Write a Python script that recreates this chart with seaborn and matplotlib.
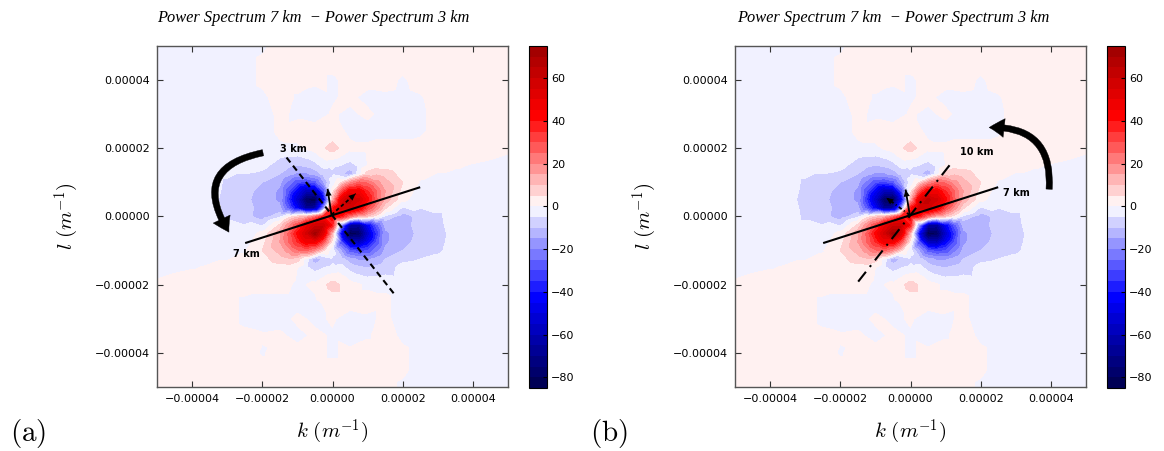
import numpy as np
import matplotlib
matplotlib.use("Agg")
import matplotlib.pyplot as plt
import matplotlib.tri as mtri
from matplotlib.colors import Normalize
from matplotlib.patches import FancyArrowPatch
from matplotlib.ticker import FuncFormatter, FixedLocator
import seaborn as sns

# ---------------- data (positions in units of 1e-6 m^-1) ----------------
UNIT = 1e-6

coarse_k = [-50, -45, -40, -35, -30, -25, -20, -15, -10, -5, 0, 5, 10, 15, 20, 25, 30, 35, 40, 45, 50]
coarse_l = [50, 45, 40, 35, 30, 25, 20, 15, 10, 5, 0, -5, -10, -15, -20, -25, -30, -35, -40, -45, -50]
coarse_diff = [
    [-2, -2, -2, -2, -2, -2, -1, 2, 2, 2, 2, 2, 2, 2, 2, 2, 2, 2, 2, 2, 2],
    [-2, -2, -2, -2, -2, -2, 1, 2, 2, 1, 1, 2, 2, 2, 2, 2, 2, 2, 2, 2, 2],
    [-2, -2, -2, -2, -2, -2, 1, 2, 2, 1, -0.5, 1, 2, 2, -0.8, 2, 2, 2, 2, 2, 2],
    [-2, -2, -2, -2, -2, -2, -1, 2, -0.5, -2, -0.5, 1, -1.5, -1, -1.5, -0.5, 2, 2, 2, 2, 2],
    [-2, -2, -2, -2, -2, -2, -2, 1, -1, -2, 0.5, -1, 1, -2, -2, -1, 2, 2, 2, 2, 2],
    [-2, -2, -2, -2, -2, -2, -2, 1, 2, 2, 2, -1, -2, -2, -2, -1, 2, 2, 2, 2, 2],
    [-2, -2, -2, -2, -2, -2, -2, -1, -1, 2, 7, 1, 1, 2, 2, 2, 2, 2, 2, 2, 1],
    [-2, -2, -2, -2, -2, -2, -3, -8, -10, -7, -4, -7, 0, 3, 2, 2, 1.5, 0.5, -0.3, -1, -2],
    [-2, -2, -2, -2.5, -6, -8, -10, -14, -30, -28, -3, 18, 24, 12, 5, -0.3, -2, -2, -2, -2, -2],
    [-2, -2, -2, -3, -7, -9, -12, -16, -55, -84, 12, 62, 42, 14, 1, -2, -2, -2, -2, -2, -2],
    [-2, -2, -2, -2.5, -6, -8, -13, -6, 8, 22, 42, 22, 8, -6, -13, -8, -6, -2.5, -2, -2, -2],
    [-2, -2, -2, -2, -2, -2, 1, 14, 42, 72, 12, -84, -55, -16, -12, -9, -7, -3, -2, -2, -2],
    [-2, -2, -2, -2, -2, -0.3, 5, 12, 24, 18, -3, -28, -30, -14, -10, -8, -6, -2.5, -2, -2, -2],
    [-2, -1, -0.3, 0.5, 1.5, 2, 2, 3, 0, -7, -4, -7, -10, -8, -3, -2, -2, -2, -2, -2, -2],
    [1, 2, 2, 2, 2, 2, 2, 2, -1, 1, 7, 2, -1, -1, -2, -2, -2, -2, -2, -2, -2],
    [2, 2, 2, 2, 2, -1, -2, -2, -2, -1, 2, 2, 2, 1, -2, -2, -2, -2, -2, -2, -2],
    [2, 2, 2, 2, 2, -1, -2, -2, 1, -1, 0.5, -2, -1, 1, -2, -2, -2, -2, -2, -2, -2],
    [2, 2, 2, 2, 2, 1, 0.5, 1, -1.5, 1, -0.5, -2, -0.5, 2, -1, -2, -2, -2, -2, -2, -2],
    [2, 2, 2, 2, 2, 2, -0.5, 2, 2, 1, -0.5, 1, 2, 2, 1, -2, -2, -2, -2, -2, -2],
    [2, 2, 2, 2, 2, 2, 2, 2, 2, 1, 1, 1, 2, 2, 1, -2, -2, -2, -2, -2, -2],
    [2, 2, 2, 2, 2, 2, 2, 2, 2, 2, 2, 2, 2, 2, -1, -2, -2, -2, -2, -2, -2],
]

fine_k = [-15, -12.5, -10, -7.5, -5, -2.5, 0, 2.5, 5, 7.5, 10, 12.5, 15]
fine_l = [15, 12.5, 10, 7.5, 5, 2.5, 0, -2.5, -5, -7.5, -10, -12.5, -15]
fine_diff = [
    [-8, -9, -10, -9, -7, -3, -4, -5, -7, -4, 0, 3, 3],
    [-10, -13, -16, -16, -13, -8, -6, -9, -13, -2, 7, 9, 7],
    [-14, -22, -30, -32, -28, -15, -3, 5, 18, 26, 24, 17, 12],
    [-16, -30, -45, -60, -58, -30, 2, 28, 45, 46, 35, 25, 15],
    [-16, -35, -55, -80, -84, -45, 12, 50, 62, 56, 42, 26, 14],
    [-14, -28, -45, -68, -65, -20, 38, 58, 58, 48, 30, 18, 6],
    [-6, 2, 8, 12, 22, 38, 42, 38, 22, 12, 8, 2, -6],
    [6, 18, 30, 48, 58, 58, 38, -20, -65, -68, -45, -28, -14],
    [14, 26, 42, 56, 72, 50, 12, -45, -84, -80, -55, -35, -16],
    [15, 25, 35, 46, 45, 28, 2, -30, -58, -60, -45, -30, -16],
    [12, 17, 24, 26, 18, 5, -3, -15, -28, -32, -30, -22, -14],
    [7, 9, 7, -2, -13, -9, -6, -8, -13, -16, -16, -13, -10],
    [3, 3, 0, -4, -7, -5, -4, -3, -7, -9, -10, -9, -8],
]

levels = list(range(-85, 80, 5))
cbar_ticks = [-80, -60, -40, -20, 0, 20, 40, 60]
axis_ticks = [-40, -20, 0, 20, 40]
axis_lim = [-50, 50]

title_text = "Power Spectrum 7 km  \u2212 Power Spectrum 3 km"
panel_labels = ["(a)", "(b)"]

# annotations (units of 1e-6 m^-1)
line7_k, line7_l = [-24.6, 24.7], [-7.7, 8.5]
line3_k, line3_l = [-13.1, 18.1], [17.3, -23.4]
line10_k, line10_l = [-14.9, 12.1], [-19.1, 16.3]
center_a, center_b = (-0.3, 0.5), (-0.2, 0.4)
arrow_solid_a, arrow_dash_a = (-1.4, 8.1), (6.6, 6.7)
arrow_solid_b, arrow_dash_b = (-1.4, 7.9), (-6.9, 5.5)
curve_a = ((-19.8, 18.7), (-29.5, -4.6), 0.72)
curve_b = ((39.5, 8.0), (22.4, 26.1), 0.55)

# ---------------- build field points ----------------
pk, pl, pz = [], [], []
for i, lv in enumerate(coarse_l):
    for j, kv in enumerate(coarse_k):
        if max(abs(kv), abs(lv)) > 15:
            pk.append(kv); pl.append(lv); pz.append(coarse_diff[i][j])
for i, lv in enumerate(fine_l):
    for j, kv in enumerate(fine_k):
        pk.append(kv); pl.append(lv); pz.append(fine_diff[i][j])
tri = mtri.Triangulation(np.array(pk, float), np.array(pl, float))
zz = np.array(pz, float)

# ---------------- style ----------------
cmap = sns.color_palette("seismic", as_cmap=True)
plt.rcParams["mathtext.fontset"] = "cm"
plt.rcParams["font.family"] = ["DejaVu Sans"]
plt.rcParams["axes.unicode_minus"] = True

W, H = 1164, 451
fig = plt.figure(figsize=(W / 100, H / 100), dpi=100)


def fx(px):
    return px / W


def fy(py):
    return 1 - py / H


def fmt(v, pos):
    s = "%.5f" % (v * UNIT)
    if v < 0:
        s = "\u2212" + s.lstrip("-")
    elif s.startswith("-"):
        s = s[1:]
    return s


norm = Normalize(vmin=-85, vmax=85)

panels = [
    dict(ax=(157, 508), cb=(529, 547), title_x=313, lab_x=10),
    dict(ax=(735, 1086), cb=(1107, 1125), title_x=893, lab_x=590),
]
top_px, bot_px = 46, 387

axes = []
for p in panels:
    x0, x1 = p["ax"]
    ax = fig.add_axes([fx(x0), fy(bot_px), fx(x1 - x0), (bot_px - top_px) / H])
    cs = ax.tricontourf(tri, zz, levels=levels, cmap=cmap, norm=norm, antialiased=False)
    ax.set_xlim(axis_lim)
    ax.set_ylim(axis_lim)
    ax.xaxis.set_major_locator(FixedLocator(axis_ticks))
    ax.yaxis.set_major_locator(FixedLocator(axis_ticks))
    ax.xaxis.set_major_formatter(FuncFormatter(fmt))
    ax.yaxis.set_major_formatter(FuncFormatter(fmt))
    ax.tick_params(direction="in", top=True, right=True, length=4, width=0.8,
                   labelsize=8, pad=5, color="#333333")
    for s in ax.spines.values():
        s.set_linewidth(1.0)
        s.set_color("#555555")
    ax.set_xlabel(r"$k\ (m^{-1})$", fontsize=15, labelpad=10)
    ax.set_ylabel(r"$l\ (m^{-1})$", fontsize=15, labelpad=10)

    c0, c1 = p["cb"]
    cax = fig.add_axes([fx(c0), fy(388), fx(c1 - c0), (388 - top_px) / H])
    cb = fig.colorbar(cs, cax=cax, ticks=cbar_ticks)
    cb.ax.tick_params(direction="in", length=3, width=0.8, labelsize=8, pad=3)
    cb.outline.set_linewidth(0.8)
    cb.ax.yaxis.set_major_formatter(FuncFormatter(
        lambda v, pos: ("\u2212%d" % -v) if v < 0 else "%d" % v))

    fig.text(fx(p["title_x"]), fy(18), title_text, ha="center", va="center",
             fontsize=11.8, family="Liberation Serif", style="italic")
    axes.append(ax)

for p, lab in zip(panels, panel_labels):
    fig.text(fx(p["lab_x"]), fy(441), r"$\mathrm{%s}$" % lab, fontsize=21,
             ha="left", va="baseline")


def straight_arrow(ax, start, tip, ls):
    ax.plot([start[0], tip[0]], [start[1], tip[1]], color="k", lw=1.3, ls=ls,
            solid_capstyle="butt")
    d = np.array(tip) - np.array(start)
    base = np.array(tip) - 0.35 * d
    ax.annotate("", xy=tip, xytext=tuple(base),
                arrowprops=dict(arrowstyle="-|>,head_length=0.5,head_width=0.22",
                                color="k", lw=0.01, shrinkA=0, shrinkB=0,
                                mutation_scale=10))


def curved_arrow(ax, spec):
    a, b, rad = spec
    arr = FancyArrowPatch(a, b, connectionstyle="arc3,rad=%g" % rad,
                          arrowstyle="simple,head_width=1.5,head_length=1.2,tail_width=0.5",
                          mutation_scale=9, color="k", lw=0.3,
                          shrinkA=0, shrinkB=0, zorder=5)
    ax.add_patch(arr)


bold = dict(fontsize=7, fontweight="bold", color="k")

# panel (a)
ax = axes[0]
ax.plot(line7_k, line7_l, color="k", lw=1.5)
ax.plot(line3_k, line3_l, color="k", lw=1.5, ls=(0, (3, 2)))
straight_arrow(ax, center_a, arrow_solid_a, "-")
straight_arrow(ax, center_a, arrow_dash_a, (0, (2, 1.5)))
ax.text(-11.2, 19.9, "3 km", ha="center", va="center", **bold)
ax.text(-24.4, -10.9, "7 km", ha="center", va="center", **bold)
curved_arrow(ax, curve_a)

# panel (b)
ax = axes[1]
ax.plot(line7_k, line7_l, color="k", lw=1.5)
ax.plot(line10_k, line10_l, color="k", lw=1.5, ls=(0, (6, 3, 1, 3)))
straight_arrow(ax, center_b, arrow_solid_b, "-")
straight_arrow(ax, center_b, arrow_dash_b, (0, (2, 1.5, 0.6, 1.5)))
ax.text(14.2, 18.9, "10 km", ha="left", va="center", **bold)
ax.text(26.3, 6.8, "7 km", ha="left", va="center", **bold)
curved_arrow(ax, curve_b)

fig.savefig("out.png", dpi=100, facecolor="white")
